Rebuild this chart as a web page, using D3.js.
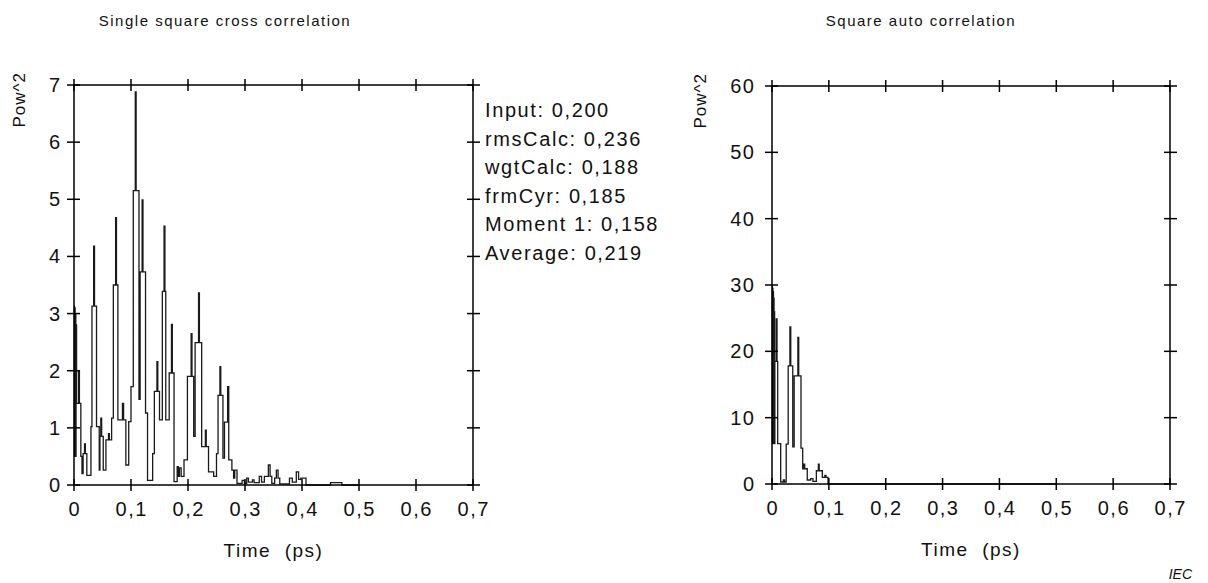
<!DOCTYPE html>
<html>
<head>
<meta charset="utf-8">
<script src="https://cdn.jsdelivr.net/npm/d3@7"></script>
<style>
  html, body { margin: 0; padding: 0; background: #fff; }
  svg { display: block; }
  text { font-family: "Liberation Sans", Arial, Helvetica, sans-serif; fill: #111; white-space: pre; }
</style>
</head>
<body>
<svg id="chart" width="1208" height="583"></svg>
<script>
// ---------------- data ----------------
const leftTitle = "Single square cross correlation";
const rightTitle = "Square auto correlation";
const xLabel = "Time  (ps)";
const yLabel = "Pow^2";

const xTicks = [0, 0.1, 0.2, 0.3, 0.4, 0.5, 0.6, 0.7];
const xTickLabels = ["0", "0,1", "0,2", "0,3", "0,4", "0,5", "0,6", "0,7"];
const crossYTicks = [0, 1, 2, 3, 4, 5, 6, 7];
const autoYTicks = [0, 10, 20, 30, 40, 50, 60];

const infoLines = ["Input: 0,200", "rmsCalc: 0,236", "wgtCalc: 0,188", "frmCyr: 0,185", "Moment 1: 0,158", "Average: 0,219"];

// cross correlation (step series: time in ps, Pow^2)
const crossT = [0.0000,0.0008,0.0012,0.0020,0.0024,0.0032,0.0036,0.0045,0.0080,0.0095,0.0120,
  0.0140,0.0160,0.0185,0.0200,0.0225,0.0297,0.0315,0.0345,0.0360,0.0395,
  0.0443,0.0455,0.0470,0.0485,0.0513,0.0560,0.0605,0.0620,0.0660,0.0690,
  0.0730,0.0745,0.0770,0.0850,0.0870,0.0910,0.0960,0.1000,0.1040,0.1075,
  0.1090,0.1140,0.1160,0.1195,0.1210,0.1255,0.1290,0.1380,0.1410,0.1455,
  0.1470,0.1500,0.1550,0.1580,0.1595,0.1610,0.1670,0.1710,0.1725,0.1755,
  0.1810,0.1830,0.1850,0.1880,0.1930,0.1990,0.2055,0.2070,0.2100,0.2125,
  0.2185,0.2200,0.2240,0.2305,0.2320,0.2360,0.2450,0.2500,0.2527,0.2560,
  0.2575,0.2613,0.2640,0.2695,0.2715,0.2770,0.2800,0.2820,0.2860,0.2950,
  0.2990,0.3030,0.3060,0.3130,0.3160,0.3250,0.3290,0.3340,0.3410,0.3440,
  0.3470,0.3520,0.3550,0.3580,0.3610,0.3780,0.3830,0.3900,0.3940,0.3980,
  0.4070,0.4500,0.4700,0.5000];
const crossV = [3.13,0.50,3.10,0.55,3.00,0.50,2.80,1.43,2.00,1.43,0.50,
  0.20,0.55,0.72,0.55,0.17,1.02,3.13,4.18,3.13,1.02,
  0.26,0.85,1.17,0.85,0.26,0.79,0.90,0.79,1.17,3.50,
  4.68,3.50,1.14,1.43,1.14,0.35,1.11,1.72,5.15,6.88,
  5.15,1.50,3.73,4.99,3.73,1.26,0.08,0.55,1.64,2.16,
  1.64,1.14,3.39,4.53,3.39,1.14,1.96,2.81,1.96,0.06,
  0.32,0.15,0.30,0.15,0.44,1.90,2.65,1.90,0.85,2.49,
  3.36,2.49,0.67,0.96,0.67,0.23,0.15,0.55,1.57,2.07,
  1.57,0.47,1.10,1.72,0.44,0.26,0.12,0.26,0.03,0.08,
  0.03,0.12,0.05,0.09,0.04,0.15,0.05,0.15,0.35,0.15,
  0.03,0.12,0.26,0.12,0.02,0.12,0.05,0.23,0.10,0.12,
  0.00,0.04,0.00,0.00];

// auto correlation (step series)
const autoT = [0.0000,0.0006,0.0010,0.0016,0.0020,0.0026,0.0030,0.0036,0.0040,0.0046,0.0050,0.0075,
  0.0088,0.0100,0.0153,0.0200,0.0220,0.0250,0.0285,0.0315,0.0330,0.0365,
  0.0390,0.0455,0.0470,0.0510,0.0540,0.0560,0.0575,0.0620,0.0680,0.0720,
  0.0780,0.0815,0.0830,0.0885,0.0930,0.0950,0.0985,0.5000];
const autoV = [29.8,6.1,29.5,6.1,29.0,6.1,28.0,6.1,26.0,6.1,18.5,24.9,
  18.5,6.1,0.3,0.6,0.3,6.0,17.8,23.7,17.8,5.6,
  16.3,22.1,16.3,5.4,2.3,3.0,2.3,0.6,0.8,0.4,
  2.0,3.0,2.0,1.0,1.3,1.0,0.0,0.0];

// ---------------- drawing ----------------
const svg = d3.select("#chart");
const FONT = 20, LS = 1.5;

function panel(cfg) {
  const x = d3.scaleLinear().domain([0, 0.7]).range([cfg.x0, cfg.x1]);
  const y = d3.scaleLinear().domain([0, cfg.ymax]).range([cfg.y0, cfg.y1]);
  const g = svg.append("g");

  const pts = cfg.t.map((t, i) => [t, cfg.v[i]]);
  g.append("path")
    .datum(pts)
    .attr("fill", "none")
    .attr("stroke", "#1a1a1a")
    .attr("stroke-width", 1.3)
    .attr("d", d3.line().x(d => x(d[0])).y(d => y(d[1])).curve(d3.curveStepAfter));

  g.append("rect")
    .attr("x", cfg.x0).attr("y", cfg.y1)
    .attr("width", cfg.x1 - cfg.x0).attr("height", cfg.y0 - cfg.y1)
    .attr("fill", "none").attr("stroke", "#000").attr("stroke-width", 1.5);

  const tl = 6;
  xTicks.forEach(t => {
    const xx = x(t);
    g.append("line").attr("x1", xx).attr("x2", xx).attr("y1", cfg.y0 - tl).attr("y2", cfg.y0 + tl)
      .attr("stroke", "#000").attr("stroke-width", 1.5);
    g.append("line").attr("x1", xx).attr("x2", xx).attr("y1", cfg.y1 - tl).attr("y2", cfg.y1 + tl)
      .attr("stroke", "#000").attr("stroke-width", 1.5);
  });
  cfg.yticks.forEach(v => {
    const yy = y(v);
    g.append("line").attr("x1", cfg.x0 - tl - 1).attr("x2", cfg.x0 + tl).attr("y1", yy).attr("y2", yy)
      .attr("stroke", "#000").attr("stroke-width", 1.5);
    g.append("line").attr("x1", cfg.x1 - tl).attr("x2", cfg.x1 + tl + 1).attr("y1", yy).attr("y2", yy)
      .attr("stroke", "#000").attr("stroke-width", 1.5);
  });

  g.selectAll(".xl").data(xTicks).enter().append("text")
    .attr("x", d => x(d) + LS / 2).attr("y", cfg.y0 + 31)
    .attr("text-anchor", "middle")
    .style("font-size", FONT + "px").style("letter-spacing", LS + "px")
    .text((d, i) => xTickLabels[i]);
  g.selectAll(".yl").data(cfg.yticks).enter().append("text")
    .attr("x", cfg.x0 - cfg.ygap + LS).attr("y", d => y(d) + 7)
    .attr("text-anchor", "end")
    .style("font-size", FONT + "px").style("letter-spacing", LS + "px")
    .text(d => d);

  g.append("text")
    .attr("x", (cfg.x0 + cfg.x1) / 2).attr("y", cfg.y0 + 72)
    .attr("text-anchor", "middle")
    .attr("xml:space", "preserve")
    .style("font-size", "19px").style("letter-spacing", "1.5px")
    .text(xLabel);
  g.append("text")
    .attr("transform", `translate(${cfg.ylx},${cfg.y1 - 13}) rotate(-90)`)
    .attr("text-anchor", "end")
    .style("font-size", "17px").style("letter-spacing", "1px")
    .text(yLabel);

  g.append("text")
    .attr("x", cfg.tx).attr("y", 26)
    .attr("text-anchor", "middle")
    .style("font-size", "15px").style("letter-spacing", "1.5px")
    .text(cfg.title);
  return { x, y, g };
}

const left = panel({ x0: 74, x1: 473, y0: 485, y1: 85, ymax: 7, yticks: crossYTicks,
  t: crossT, v: crossV, title: leftTitle, tx: 225, ylx: 25, ygap: 14 });
const right = panel({ x0: 772, x1: 1170, y0: 484, y1: 86, ymax: 60, yticks: autoYTicks,
  t: autoT, v: autoV, title: rightTitle, tx: 921, ylx: 706, ygap: 18 });

left.g.selectAll(".info").data(infoLines).enter().append("text")
  .attr("x", 485).attr("y", (d, i) => 117 + i * 28.5)
  .style("font-size", "20px").style("letter-spacing", "1.6px")
  .text(d => d);

svg.append("text")
  .attr("x", 1192).attr("y", 579)
  .attr("text-anchor", "end")
  .style("font-size", "14px").style("font-style", "italic")
  .text("IEC");
</script>
</body>
</html>
